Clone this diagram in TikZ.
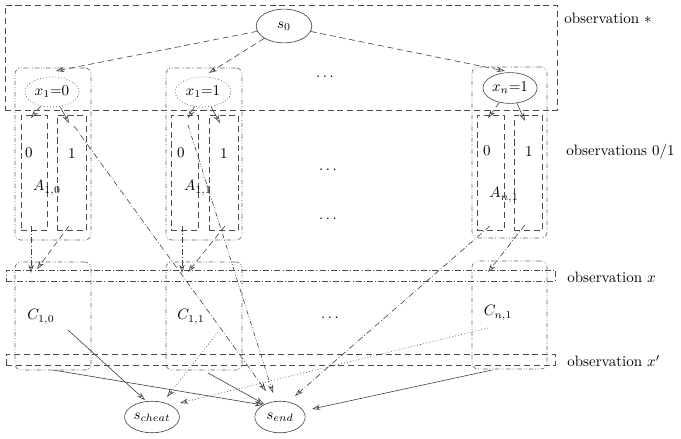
\documentclass[tikz,border=0pt]{standalone}
\usetikzlibrary{shapes.geometric,fit,arrows.meta}
\begin{document}
\begin{tikzpicture}[x=0.665pt,y=-0.665pt, line width=0.4pt,
  every node/.style={inner sep=0pt},
  lc/.style={draw=black!70},
  dsh/.style={dash pattern=on 4pt off 2.5pt},
  dshdot/.style={dash pattern=on 4pt off 1.5pt on 0.5pt off 1.5pt},
  dshdotdot/.style={dash pattern=on 3pt off 1.2pt on 0.5pt off 1.2pt on 0.5pt off 1.2pt},
  dts/.style={dash pattern=on 0.5pt off 1.5pt},
  dbox/.style={lc, dsh},
  ddbox/.style={lc, dshdot},
  clbox/.style={draw=black!60, dshdotdot, rounded corners=4pt},
  ell/.style={ellipse, draw=black!75},
  con/.style={draw=black!75, -{Stealth[open,length=5.5pt,width=3.5pt]}},
  lbl/.style={anchor=west}
]
\useasboundingbox (0,0) rectangle (681,438);

% observation bands
\node[fit={(5,5) (557,110)}, dbox] (obsstar) {};
\node[fit={(6,270) (555,281)}, ddbox] (obsx) {};
\node[fit={(6,354) (555,365)}, dbox] (obsxp) {};

\node[lbl] (lstar) at (564,18) {observation $*$};
\node[lbl] (l01) at (566,152) {observations 0/1};
\node[lbl] (lx) at (567,277) {observation $x$};
\node[lbl] (lxp) at (567,361) {observation $x'$};

% clusters
\node[fit={(15,68) (91,240)}, clbox] (k10) {};
\node[fit={(166,68) (242,240)}, clbox] (k11) {};
\node[fit={(472,67) (547,238)}, clbox] (kn1) {};
\node[fit={(15,262) (91,370)}, clbox] (c10) {};
\node[fit={(166,262) (242,370)}, clbox] (c11) {};
\node[fit={(472,261) (547,369)}, clbox] (cn1) {};

% inner boxes
\node[fit={(21,115) (47,230)}, dbox] (a10b0) {};
\node[fit={(57,115) (86,230)}, dbox] (a10b1) {};
\node[fit={(171,115) (198,230)}, dbox] (a11b0) {};
\node[fit={(209,115) (238,230)}, dbox] (a11b1) {};
\node[fit={(477,115) (504,230)}, dbox] (an1b0) {};
\node[fit={(514,115) (542,230)}, dbox] (an1b1) {};

\node (t10z) at (29,153) {0};
\node (t10o) at (72,153) {1};
\node (t11z) at (181,153) {0};
\node (t11o) at (224,153) {1};
\node (tn1z) at (487,151) {0};
\node (tn1o) at (529,151) {1};

\node (la10) at (47,188) {$A_{1,0}$};
\node (la11) at (198,188) {$A_{1,1}$};
\node (lan1) at (504,195) {$A_{n,1}$};
\node (lc10) at (41,317) {$C_{1,0}$};
\node (lc11) at (191,317) {$C_{1,1}$};
\node (lcn1) at (498,313) {$C_{n,1}$};

\node (d1) at (325,77) {$\cdots$};
\node (d2) at (328,170) {$\cdots$};
\node (d3) at (328,219) {$\cdots$};
\node (d4) at (330,318) {$\cdots$};

% ellipses
\node[ell, minimum width=37pt, minimum height=22.5pt] (s0) at (284,26) {$s_0$};
\node[ell, dts, minimum width=36pt, minimum height=20pt] (x10) at (52,92) {$x_1{=}0$};
\node[ell, dts, minimum width=37pt, minimum height=20pt] (x11) at (203,92) {$x_1{=}1$};
\node[ell, minimum width=36pt, minimum height=20.5pt] (xn1) at (510,88) {$x_n{=}1$};
\node[ell, minimum width=36.5pt, minimum height=21pt] (scheat) at (152,417) {$s_{cheat}$};
\node[ell, minimum width=33.5pt, minimum height=21pt] (send) at (280,417) {$s_{end}$};

% coordinates
\coordinate (col1in) at (56,71);
\coordinate (col2in) at (209,73);
\coordinate (col3in) at (505,71);
\coordinate (a10b0in) at (31,118);
\coordinate (a10b1in) at (69,123);
\coordinate (a11b0in) at (188,118);
\coordinate (a11b1in) at (220,123);
\coordinate (an1b0in) at (488,118);
\coordinate (an1b1in) at (525,121);
\coordinate (a10b0out) at (31,226);
\coordinate (a10b1out) at (69,226);
\coordinate (a11b0out) at (182,226);
\coordinate (a11b1out) at (225,226);
\coordinate (an1b0out) at (490,226);
\coordinate (an1b1out) at (525,225);
\coordinate (c10in1) at (31,273);
\coordinate (c10in2) at (37,269);
\coordinate (c11in1) at (182,273);
\coordinate (c11in2) at (188,272);
\coordinate (cn1in) at (488,272);
\coordinate (a10b1top) at (74,126);
\coordinate (a11b0top) at (188,125);
\coordinate (c10mid) at (68,330);
\coordinate (c10bot) at (53,370);
\coordinate (c11mid) at (218,332);
\coordinate (c11bot) at (208,373);
\coordinate (cn1mid) at (488,328);
\coordinate (cn1bot) at (492,370);
\coordinate (sendA) at (295,396);
\coordinate (sendB) at (266,391);
\coordinate (sendC) at (273,393);
\coordinate (sendD) at (263,405);
\coordinate (sendE) at (264,404);
\coordinate (sendF) at (312,409);
\coordinate (schA) at (145,400);
\coordinate (schB) at (167,397);
\coordinate (schC) at (180,403);

% connectors
\draw[con, dsh] (s0) -- (col1in);
\draw[con, dsh] (s0) -- (col2in);
\draw[con, dsh] (s0) -- (col3in);
\draw[con, dsh] (x10) -- (a10b0in);
\draw[con] (x10) -- (a10b1in);
\draw[con, dsh] (x11) -- (a11b0in);
\draw[con] (x11) -- (a11b1in);
\draw[con, dsh] (xn1) -- (an1b0in);
\draw[con] (xn1) -- (an1b1in);
\draw[con, dshdot] (a10b0out) -- (c10in1);
\draw[con, dsh] (a10b1out) -- (c10in2);
\draw[con, dshdot] (a11b0out) -- (c11in1);
\draw[con, dsh] (a11b1out) -- (c11in2);
\draw[con, dshdot] (an1b1out) -- (cn1in);
\draw[con, dshdot] (an1b0out) -- (sendA);
\draw[con, dshdot] (a10b1top) -- (sendB);
\draw[con, dshdotdot] (a11b0top) -- (sendC);
\draw[con] (c10mid) -- (schA);
\draw[con] (c10bot) -- (sendD);
\draw[con, dts] (c11mid) -- (schB);
\draw[con] (c11bot) -- (sendE);
\draw[con, dts] (cn1mid) -- (schC);
\draw[con] (cn1bot) -- (sendF);
\end{tikzpicture}
\end{document}
